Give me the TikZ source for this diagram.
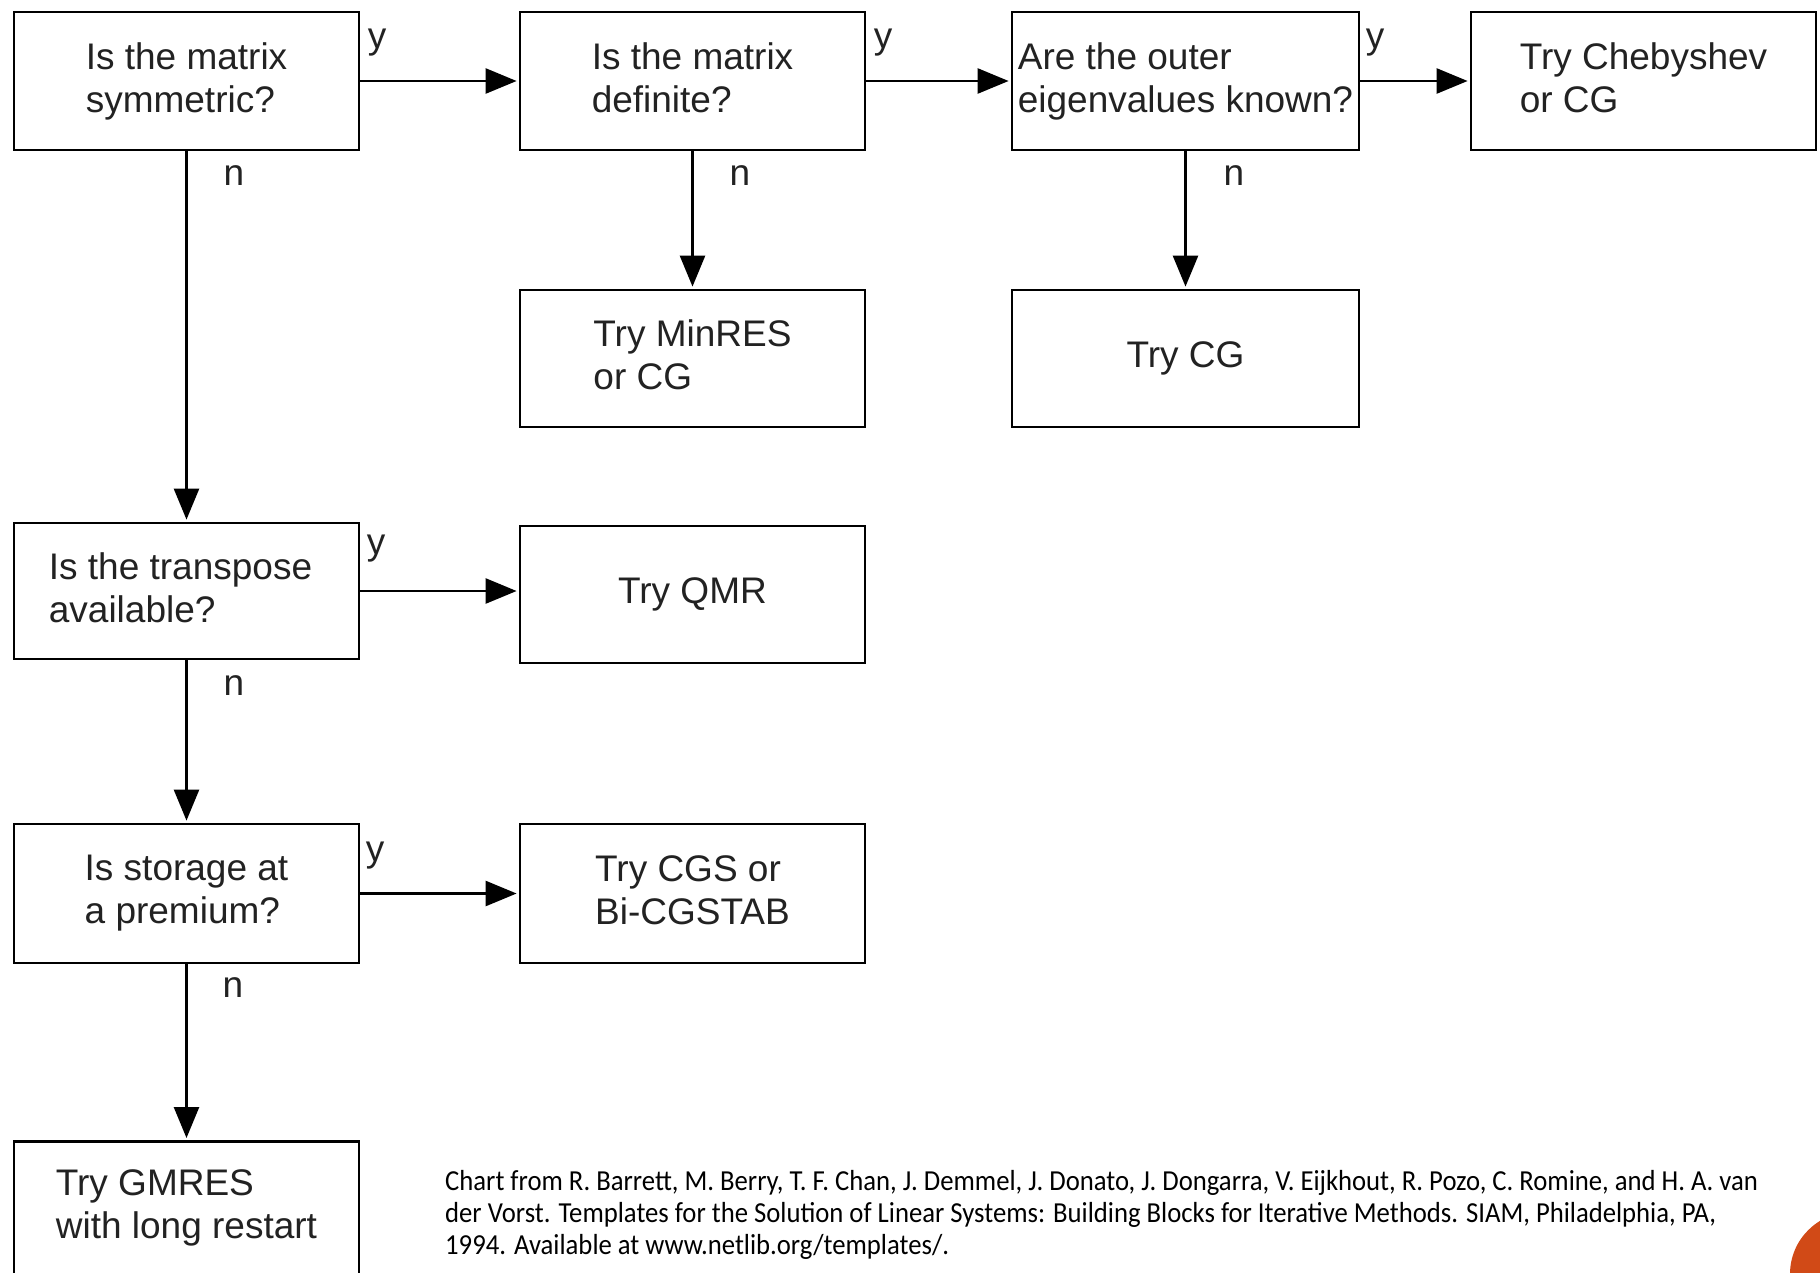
\documentclass[tikz,border=0pt]{standalone}
\usepackage{fontspec}
\setmainfont{Liberation Sans}
\newfontfamily\capfont[FakeStretch=0.92]{Carlito}
\usetikzlibrary{arrows.meta}
\definecolor{txt}{HTML}{222222}
\definecolor{accent}{HTML}{D14A17}
\newcommand{\dph}{\vphantom{y}}
\tikzset{
  box/.style={draw=black, line width=2.8pt, fill=white, minimum width=345pt, minimum height=138pt,
    align=left, text=txt, font=\fontsize{37}{43}\selectfont, inner sep=0pt},
  conn/.style={draw=black, line width=2.6pt, -{Triangle[length=31pt,width=25pt]}, shorten >=2pt},
  yn/.style={text=txt, font=\fontsize{37}{43}\selectfont, inner sep=0pt},
  captxt/.style={anchor=base west, inner sep=0pt, text=black, font=\capfont\fontsize{29}{32}\selectfont}
}
\begin{document}
\begin{tikzpicture}[x=1pt, y=-1pt]
\clip (0,0) rectangle (1820,1272);
\fill[white] (0,0) rectangle (1820,1272);
% boxes
\node[box] (b1) at (186.5,81) {Is the matrix\\symmetric?};
\node[box] (b2) at (692.5,81) {Is the matrix\\definite?\dph};
\node[box, minimum width=347pt] (b3) at (1185.5,81) {Are the outer\\eigenvalues known?};
\node[box] (b4) at (1643.5,81) {Try Chebyshev\\or CG\dph};
\node[box, minimum height=137pt] (b5) at (692.5,358.5) {Try MinRES\\or CG\dph};
\node[box, minimum width=347pt, minimum height=137pt] (b6) at (1185.5,358.5) {Try CG};
\node[box, minimum height=136pt] (b7) at (186.5,591) {Is the transpose\hspace*{12pt}\\available?\dph};
\node[box, minimum height=137pt] (b8) at (692.5,594.5) {Try QMR};
\node[box, minimum height=139pt] (b9) at (186.5,893.5) {Is storage at\\a premium?};
\node[box, minimum height=139pt] (b10) at (692.5,893.5) {Try CGS or\\Bi-CGSTAB\dph};
\node[box, minimum height=133pt, anchor=north] (b11) at (186.5,1140) {Try GMRES\\with long restart};
% connectors
\draw[conn] (b1.east) -- (b2.west);
\draw[conn] (b2.east) -- (b3.west);
\draw[conn] (b3.east) -- (b4.west);
\draw[conn] (b1.south) -- (b7.north);
\draw[conn] (b2.south) -- (b5.north);
\draw[conn] (b3.south) -- (b6.north);
\draw[conn] (b7.east) -- (b7.east -| b8.west);
\draw[conn] (b9.east) -- (b10.west);
\draw[conn] (b7.south) -- (b9.north);
\draw[conn] (b9.south) -- (b11.north);
% y / n labels
\node[yn] (y1) at (377,43) {y};
\node[yn] (y2) at (883,43) {y};
\node[yn] (y3) at (1375,43) {y};
\node[yn] (y4) at (376,549) {y};
\node[yn] (y5) at (375,856) {y};
\node[yn] (n1) at (234,176) {n};
\node[yn] (n2) at (740,176) {n};
\node[yn] (n3) at (1234,176) {n};
\node[yn] (n4) at (234,686) {n};
\node[yn] (n5) at (233,988) {n};
% caption
\node[captxt] (c1) at (445,1190) {Chart from R. Barrett, M. Berry, T. F. Chan, J. Demmel, J. Donato, J. Dongarra, V. Eijkhout, R. Pozo, C. Romine, and H. A. van};
\node[captxt] (c2) at (445,1222) {der Vorst. Templates for the Solution of Linear Systems: Building Blocks for Iterative Methods. SIAM, Philadelphia, PA,};
\node[captxt] (c3) at (445,1254) {1994. Available at www.netlib.org/templates/.};
% corner decoration
\fill[accent] (1852,1274) circle (62);
\end{tikzpicture}
\end{document}
